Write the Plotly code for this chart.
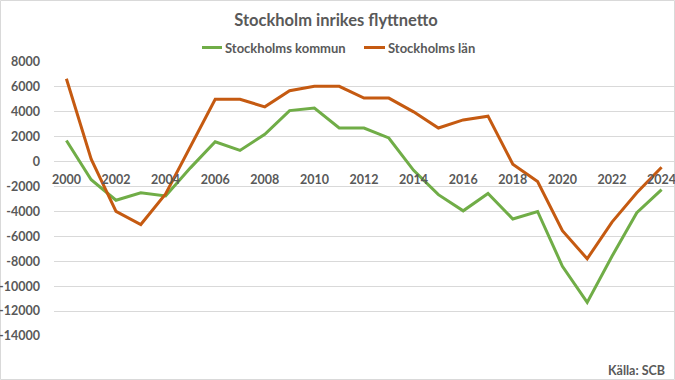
import plotly.graph_objects as go

years = list(range(2000, 2025))
kommun = [1700, -1450, -3100, -2500, -2750, -500, 1600, 900, 2200, 4100, 4300, 2700, 2700,
          1900, -700, -2650, -3950, -2550, -4600, -4000, -8400, -11300, -7600, -4100, -2250]
lan = [6650, 200, -4000, -5050, -2600, 1200, 5000, 5000, 4400, 5700, 6050, 6050, 5100,
       5100, 4000, 2700, 3350, 3650, -200, -1600, -5550, -7800, -4850, -2500, -450]
series_names = ["Stockholms kommun", "Stockholms län"]
series_colors = ["#70AD47", "#C55A11"]
xticks = list(range(2000, 2025, 2))
yticks = list(range(-14000, 8001, 2000))
yticktext = [str(v) for v in yticks]

GRAY = "#595959"
FONT = "Lato"

# pixel -> paper helpers (plot area: x 54..674, y 62..336)
L, R, T, B = 54, 674, 62, 336
def px(x):
    return (x - L) / (R - L)
def py(y):
    return (B - y) / (B - T)

fig = go.Figure()
for vals, name, col in zip([kommun, lan], series_names, series_colors):
    fig.add_trace(go.Scatter(x=years, y=vals, mode="lines", name=name, showlegend=False,
                             line=dict(color=col, width=3)))

fig.update_layout(
    width=675, height=380,
    margin=dict(l=L, r=675 - R, t=T, b=380 - B, autoexpand=False),
    paper_bgcolor="white", plot_bgcolor="white",
    font=dict(family=FONT, color=GRAY, size=12),
    title=dict(text="<b>Stockholm inrikes flyttnetto</b>", x=336 / 675, xref="container",
               y=1 - 20 / 380, yref="container", yanchor="middle", xanchor="center",
               font=dict(size=16.5, color=GRAY, family=FONT)),
    showlegend=False,
    xaxis=dict(range=[1999.5, 2024.5], tickvals=xticks,
               ticktext=[f"<b>{v}</b>" for v in xticks],
               showgrid=False, zeroline=False, showline=False, ticks="",
               anchor="free", position=14000 / 22000, ticklabeloverflow="allow",
               ticklabelstandoff=9, tickfont=dict(size=12.5)),
    yaxis=dict(range=[-14000, 8000], tickvals=yticks,
               ticktext=[f"<b>{t}</b>" for t in yticktext],
               showgrid=True, gridcolor="#D9D9D9", gridwidth=1, zeroline=False,
               showline=False, ticks="", ticklabelstandoff=13, tickfont=dict(size=12.5)),
)

# manual legend
legend_items = [(202, 222, 223), (364, 385, 386)]
for (x0, x1, tx), name, col in zip(legend_items, series_names, series_colors):
    fig.add_shape(type="line", xref="paper", yref="paper",
                  x0=px(x0), x1=px(x1), y0=py(47.5), y1=py(47.5),
                  line=dict(color=col, width=3))
    fig.add_annotation(text=f"<b>{name}</b>", xref="paper", yref="paper",
                       x=px(tx), y=py(47.5), xanchor="left", yanchor="middle",
                       showarrow=False, font=dict(size=13, color=GRAY, family=FONT))

fig.add_annotation(text="<b>Källa: SCB</b>", xref="paper", yref="paper",
                   x=px(667), y=py(370), xanchor="right", yanchor="middle",
                   showarrow=False, font=dict(size=12.5, color=GRAY, family=FONT))
fig.add_shape(type="rect", xref="paper", yref="paper",
              x0=px(0.5), x1=px(674.5), y0=py(379.5), y1=py(0.5),
              line=dict(color="#D9D9D9", width=1), fillcolor="rgba(0,0,0,0)", layer="below")

fig.write_html("out.html", config={"displayModeBar": False},
               post_script="document.body.style.margin='0';")
